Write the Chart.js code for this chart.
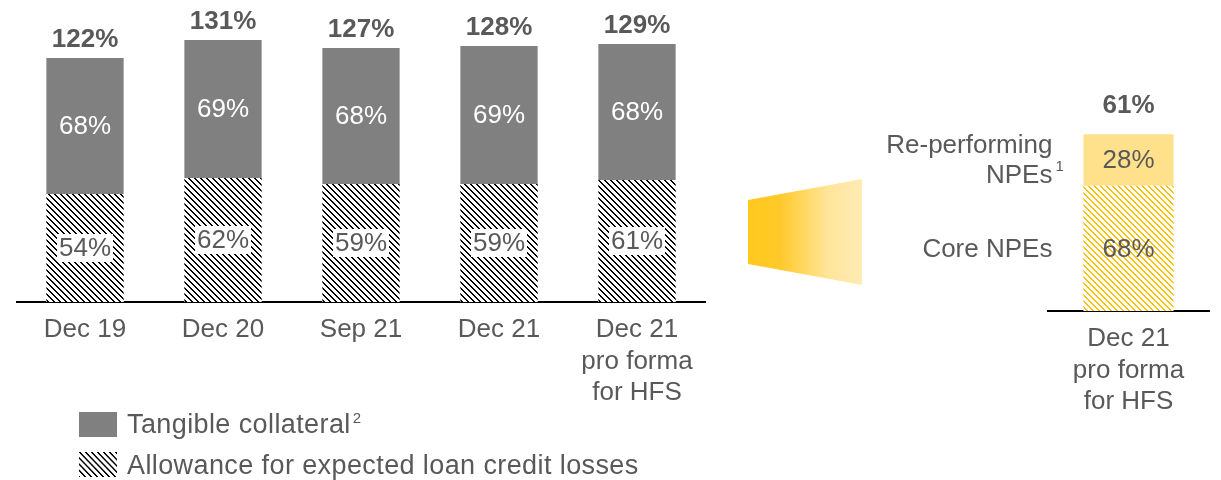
<!DOCTYPE html>
<html>
<head>
<meta charset="utf-8">
<script src="https://cdn.jsdelivr.net/npm/chart.js@4.4.1/dist/chart.umd.min.js"></script>
<style>
  html, body { margin: 0; padding: 0; background: #fff; }
  body { width: 1221px; height: 480px; position: relative; overflow: hidden;
         font-family: "Liberation Sans", Arial, sans-serif; color: #595959; }
  #leftBox { position: absolute; left: 16px; top: 0; }
  #rightBox { position: absolute; left: 860px; top: 0; }
  .funnel { position: absolute; left: 748px; top: 179px; width: 114px; height: 106px;
            clip-path: polygon(0 21px, 100% 0, 100% 100%, 0 85px);
            background: linear-gradient(90deg, #FFC81E 0%, #FFC92A 28%, #FFE59A 70%, #FFECB4 100%); }
  .legend { position: absolute; left: 79px; font-size: 27px; line-height: 30px; letter-spacing: 0.4px; }
  .legend .sw { position: absolute; left: 0; width: 38px; height: 25px; }
  .legend span.txt { position: absolute; left: 48px; white-space: nowrap; }
  .legend sup { font-size: 15px; vertical-align: 0; position: relative; top: -10px; margin-left: 2px; }
</style>
</head>
<body>
<div id="leftBox"><canvas id="leftChart" width="690" height="422"></canvas></div>
<div class="funnel"></div>
<div id="rightBox"><canvas id="rightChart" width="361" height="431"></canvas></div>

<div class="legend" style="top:409px">
  <div class="sw" style="top:3px;background:#808080"></div>
  <span class="txt" style="top:0">Tangible collateral<sup>2</sup></span>
</div>
<div class="legend" style="top:450px">
  <canvas class="sw" id="hatchSwatch" width="38" height="24" style="top:2px"></canvas>
  <span class="txt" style="top:0">Allowance for expected loan credit losses</span>
</div>

<script>
// ---- data ----
const periods = ['Dec 19', 'Dec 20', 'Sep 21', 'Dec 21', ['Dec 21', 'pro forma', 'for HFS']];
const allowance = [54, 62, 59, 59, 61];
const tangibleCollateral = [68, 69, 68, 69, 68];
const totalCoverage = [122, 131, 127, 128, 129];

const hfsPeriod = [['Dec 21', 'pro forma', 'for HFS']];
const coreNpes = [68];
const reperformingNpes = [28];
const hfsCoverage = [61];
const hfsSegmentNames = [['Core NPEs'], ['Re-performing', 'NPEs']];
const hfsSegmentNotes = ['', '1'];

const FONT = '"Liberation Sans", Arial, sans-serif';
const TEXT_GREY = '#595959';

// diagonal hatch like the slide's downward-diagonal fill
function hatch(color) {
  const n = 6;
  const c = document.createElement('canvas');
  c.width = n; c.height = n;
  const g = c.getContext('2d');
  g.fillStyle = '#fff';
  g.fillRect(0, 0, n, n);
  g.fillStyle = color;
  for (let i = 0; i < n; i++) {
    g.fillRect(i, i, 1, 1);
    g.fillRect((i + 1) % n, i, 1, 1);
  }
  return g.createPattern(c, 'repeat');
}

// segment values + totals + side captions
const labelPlugin = {
  id: 'segLabels',
  afterDatasetsDraw(chart, args, opts) {
    const ctx = chart.ctx;
    ctx.save();
    chart.data.datasets.forEach((ds, di) => {
      const meta = chart.getDatasetMeta(di);
      meta.data.forEach((bar, i) => {
        const cy = (bar.y + bar.base) / 2;
        const txt = ds.data[i] + '%';
        ctx.font = '26px ' + FONT;
        ctx.textAlign = 'center';
        ctx.textBaseline = 'middle';
        if (ds.labelMode === 'boxed') {
          const w = ctx.measureText(txt).width + 4;
          ctx.fillStyle = '#fff';
          ctx.fillRect(bar.x - w / 2, cy - 14, w, 28);
        }
        ctx.fillStyle = ds.labelColor;
        ctx.fillText(txt, bar.x, cy + 1);

        // caption to the left of the bar
        if (opts.names) {
          const lines = opts.names[di];
          const right = bar.x - bar.width / 2 - 31;
          const lh = 30;
          const y0 = cy - (lines.length - 1) * lh / 2;
          ctx.textAlign = 'right';
          ctx.fillStyle = TEXT_GREY;
          lines.forEach((ln, k) => ctx.fillText(ln, right, y0 + k * lh + 1));
          if (opts.notes[di]) {
            ctx.font = '15px ' + FONT;
            ctx.textAlign = 'left';
            ctx.fillText(opts.notes[di], right + 3, y0 + (lines.length - 1) * lh - 8);
          }
        }
      });
    });
    // totals above each stack
    const last = chart.getDatasetMeta(chart.data.datasets.length - 1);
    ctx.font = 'bold 26px ' + FONT;
    ctx.textAlign = 'center';
    ctx.textBaseline = 'middle';
    ctx.fillStyle = TEXT_GREY;
    last.data.forEach((bar, i) => {
      ctx.fillText(opts.totals[i] + '%', bar.x, bar.y - opts.gap);
    });
    ctx.restore();
  }
};

function baseOptions(maxY, totals, gap, extra) {
  return {
    responsive: false,
    animation: false,
    layout: { padding: extra.padding || 0 },
    plugins: {
      legend: { display: false },
      tooltip: { enabled: false },
      segLabels: Object.assign({ totals: totals, gap: gap }, extra.labels || {})
    },
    scales: {
      x: {
        stacked: true,
        grid: { display: false, drawTicks: false },
        border: { display: true, color: '#000', width: 2 },
        ticks: {
          color: TEXT_GREY,
          font: { family: FONT, size: 26, lineHeight: 1.22 },
          padding: 12,
          maxRotation: 0,
          autoSkip: false
        },
        afterFit(scale) { scale.height = 120; }
      },
      y: { stacked: true, display: false, min: 0, max: maxY }
    }
  };
}

new Chart(document.getElementById('leftChart'), {
  type: 'bar',
  data: {
    labels: periods,
    datasets: [
      {
        label: 'Allowance for expected loan credit losses',
        data: allowance,
        backgroundColor: hatch('#000'),
        labelMode: 'boxed',
        labelColor: TEXT_GREY,
        barPercentage: 0.56,
        categoryPercentage: 1
      },
      {
        label: 'Tangible collateral',
        data: tangibleCollateral,
        backgroundColor: '#808080',
        labelColor: '#fff',
        barPercentage: 0.56,
        categoryPercentage: 1
      }
    ]
  },
  options: baseOptions(151, totalCoverage, 18, {}),
  plugins: [labelPlugin]
});

new Chart(document.getElementById('rightChart'), {
  type: 'bar',
  data: {
    labels: hfsPeriod,
    datasets: [
      {
        label: 'Core NPEs',
        data: coreNpes,
        backgroundColor: hatch('#FFC000'),
        labelColor: TEXT_GREY,
        barPercentage: 0.56,
        categoryPercentage: 1
      },
      {
        label: 'Re-performing NPEs',
        data: reperformingNpes,
        backgroundColor: '#FFE18C',
        labelColor: TEXT_GREY,
        barPercentage: 0.56,
        categoryPercentage: 1
      }
    ]
  },
  options: baseOptions(169, hfsCoverage, 29, {
    padding: { left: 188, right: 12 },
    labels: { names: hfsSegmentNames, notes: hfsSegmentNotes }
  }),
  plugins: [labelPlugin]
});

// legend swatch uses the same hatch
const sw = document.getElementById('hatchSwatch').getContext('2d');
sw.fillStyle = hatch('#000');
sw.fillRect(0, 0, 38, 24);
</script>
</body>
</html>
